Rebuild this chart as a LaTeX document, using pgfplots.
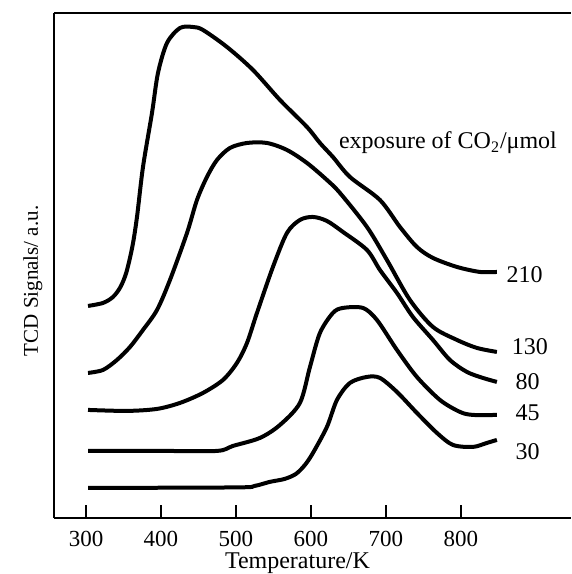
\documentclass[border=0pt]{standalone}
\usepackage{fontspec}
\setmainfont{Liberation Serif}
\usepackage{pgfplots}
\pgfplotsset{compat=1.18}

\begin{document}
\begin{tikzpicture}
\begin{axis}[
  width=258.5pt, height=252.5pt, scale only axis,
  xmin=257.3, xmax=946.7, ymin=0, ymax=505,
  axis x line*=bottom, axis y line*=left,
  axis line style={line width=0.8pt, -},
  every outer x axis line/.append style={-},
  every outer y axis line/.append style={-},
  xtick={300,400,...,800}, ytick=\empty, xtick pos=bottom,
  tick align=inside, major tick length=6.5pt,
  tick style={line width=0.8pt, black},
  x tick label style={font=\fontsize{11.5}{13}\selectfont, yshift=-3pt,
    /pgf/number format/assume math mode=true},
  clip=false,
  curve/.style={black, line width=2pt, smooth, tension=0.5, mark=none},
]
% keep the same margins as the reference
\path (axis cs:185.3,518) rectangle (axis cs:946.7,-56);
\draw[line width=0.8pt] (rel axis cs:0,1) -- (rel axis cs:1,1);

% 210
\addplot[curve] coordinates {
  (302.7,212)(322.7,215)(336,221)(346,231)(354,246)(362,272)(368,301)(376,351)
  (388,405)(396,445)(408,475)(425.3,490)(442.7,491)(456,488)(488,471)
  (522.7,448)(558.7,418)(594.7,391)(612,375)(629.3,361)(652,341)(692,318)
  (718.7,291)(741.3,271)(762.7,260)(794.7,251)(825.3,246)(848,246)
};
% 130
\addplot[curve] coordinates {
  (302.7,145)(322.7,148)(341.3,158)(358.7,171)(376,188)(394.7,208)(412,238)
  (434.7,285)(448,318)(461.3,341)(474.7,358)(492,370)(514.7,375)(541.3,375)
  (568,368)(594.7,355)(621.3,338)(638.7,325)(674.7,291)(701.3,258)(732,218)
  (762.7,191)(794.7,178)(821.3,170)(848,166)
};
% 80
\addplot[curve] coordinates {
  (302.7,108)(354.7,107)(394.7,109)(425.3,115)(456,125)(482.7,138)(501.3,155)
  (514.7,175)(528,205)(549.3,251)(568,285)(585.3,298)(602.7,301)(621.3,297)
  (642.7,286)(674.7,268)(692,248)(714.7,225)(736,201)(762.7,178)(785.3,158)
  (808,146)(829.3,140)(848,136)
};
% 45
\addplot[curve] coordinates {
  (302.7,67)(398.7,67)(474.7,67)(496,72)(532,80)(558.7,93)(585.3,115)
  (598.7,151)(612,185)(629.3,205)(642.7,210)(669.3,210)(688,198)(714.7,168)
  (741.3,141)(772,118)(798.7,106)(816,103)(848,103)
};
% 30
\addplot[curve] coordinates {
  (302.7,30)(500,30.5)(525,32)(545,36)(565,39)(580,44)(592,53)(602.7,65)
  (621.3,91)(634.7,118)(652,135)(674.7,141)(692,140)(714.7,126)(741.3,105)
  (768,85)(789.3,73)(816,71)(834.7,75)(848,78)
};

\begin{scope}[font=\fontsize{12}{14}\selectfont]
\node at (axis cs:885,243) {210};
\node at (axis cs:892,171) {130};
\node at (axis cs:889,136) {80};
\node at (axis cs:889,105) {45};
\node at (axis cs:889,66) {30};
\node[anchor=west, inner sep=0pt] at (axis cs:637,375) {exposure of CO\textsubscript{2}/μmol};
\node[anchor=base, inner sep=0pt] at (axis cs:582,-51) {Temperature/K};
\end{scope}
\node[rotate=90, inner sep=0pt, font=\fontsize{10.5}{12}\selectfont]
  at (axis cs:229,237) {TCD Signals/ a.u.};
\end{axis}
\end{tikzpicture}
\end{document}
